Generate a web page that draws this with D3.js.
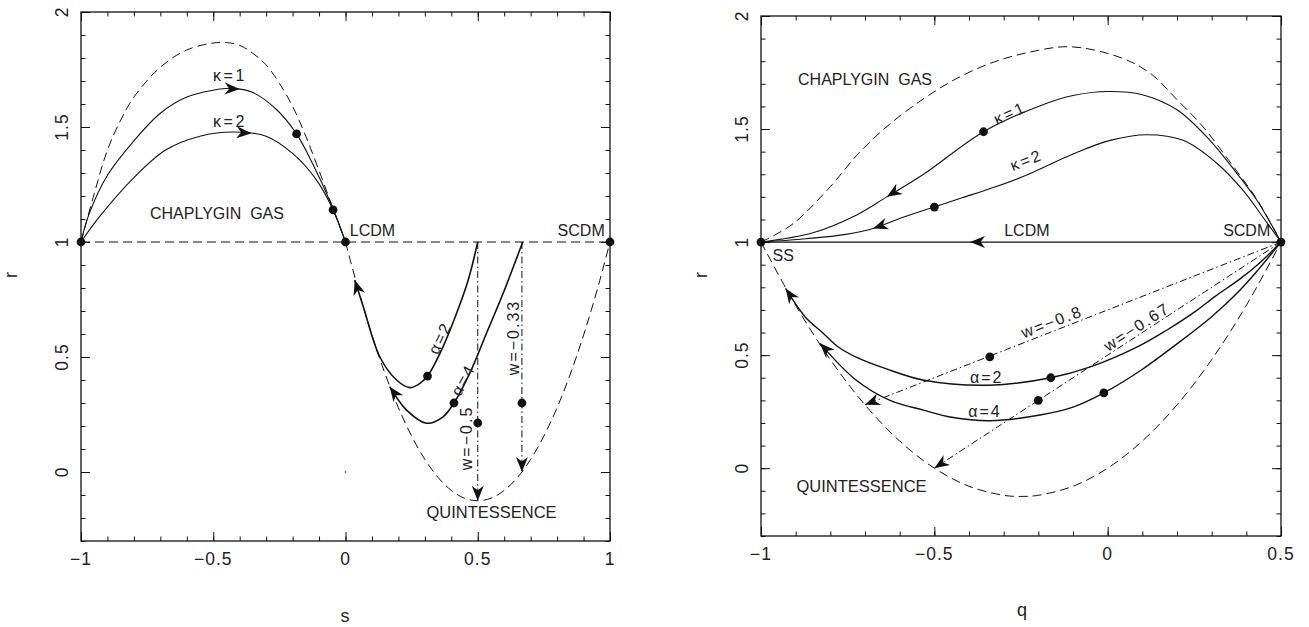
<!DOCTYPE html>
<html>
<head>
<meta charset="utf-8">
<script src="https://cdn.jsdelivr.net/npm/d3@7"></script>
<style>
body{margin:0;background:#fff}
text{font-family:"Liberation Sans",Arial,sans-serif;fill:#222}
</style>
</head>
<body>
<svg id="chart" width="1309" height="627"></svg>
<script>
// ---------- left panel : {s, r} ----------
var sDashUpper = [[-1,1],[-0.95,1.21],[-0.9,1.40],[-0.85,1.53],[-0.8,1.63],[-0.7,1.76],[-0.6,1.835],[-0.5,1.865],
  [-0.45,1.867],[-0.4,1.855],[-0.35,1.82],[-0.3,1.77],[-0.25,1.69],[-0.2,1.59],[-0.15,1.46],[-0.1,1.31],[-0.05,1.155],[0,1]];
var sDashLower = [[0,1],[0.05,0.786],[0.1,0.595],[0.15,0.426],[0.2,0.28],[0.25,0.156],[0.3,0.055],[0.35,-0.024],
  [0.4,-0.08],[0.45,-0.114],[0.5,-0.125],[0.55,-0.114],[0.6,-0.08],[0.65,-0.024],[0.7,0.055],[0.75,0.156],
  [0.8,0.28],[0.85,0.426],[0.9,0.595],[0.95,0.786],[1,1]];
var sFlat = [[-1,1],[1,1]];
var sKappa1 = [[-1,1],[-0.97,1.12],[-0.9,1.29],[-0.8,1.44],[-0.7,1.56],[-0.6,1.63],[-0.5,1.66],[-0.43,1.668],
  [-0.35,1.65],[-0.26,1.575],[-0.185,1.47],[-0.12,1.33],[-0.06,1.18],[0,1]];
var sKappa2 = [[-1,1],[-0.93,1.11],[-0.8,1.28],[-0.68,1.40],[-0.55,1.46],[-0.42,1.478],[-0.3,1.46],[-0.2,1.385],
  [-0.11,1.27],[-0.047,1.14],[0,1]];
var sAlpha2 = [[0.5,1],[0.464,0.835],[0.42,0.69],[0.369,0.545],[0.31,0.417],[0.275,0.38],[0.243,0.367],
  [0.193,0.40],[0.13,0.50],[0.067,0.72],[0.035,0.835]];
var sAlpha4 = [[0.67,1],[0.596,0.777],[0.533,0.603],[0.47,0.43],[0.41,0.30],[0.369,0.24],[0.306,0.212],
  [0.23,0.27],[0.167,0.371]];
var sW05 = [[0.5,1],[0.5,-0.125]];
var sW033 = [[0.667,1],[0.667,0.0]];
var sDots = [[-1,1],[0,1],[1,1],[-0.185,1.47],[-0.047,1.14],[0.31,0.417],[0.41,0.30],[0.5,0.213],[0.667,0.30]];
var sSpeck = [[0,0]];
// arrow tip, then a point behind it (direction)
var sArrows = [[[-0.40,1.665],[-0.46,1.667]],[[-0.355,1.473],[-0.42,1.478]]];

// ---------- right panel : {q, r} ----------
var qDashUpper = [[-1,1],[-0.95,1.04],[-0.9,1.09],[-0.8,1.245],[-0.72,1.39],[-0.63,1.52],[-0.53,1.635],[-0.44,1.72],
  [-0.34,1.79],[-0.24,1.835],[-0.11,1.864],[0.03,1.82],[0.12,1.75],[0.2,1.63],[0.275,1.51],[0.35,1.36],[0.43,1.19],[0.5,1]];
var qDashLower = [[-1,1],[-0.9,0.72],[-0.8,0.48],[-0.7,0.28],[-0.6,0.12],[-0.5,0],[-0.4,-0.08],[-0.3,-0.12],
  [-0.25,-0.125],[-0.2,-0.12],[-0.1,-0.08],[0,0],[0.1,0.12],[0.2,0.28],[0.3,0.48],[0.4,0.72],[0.5,1]];
var qLCDM = [[0.5,1],[-1,1]];
var qKappa1 = [[0.5,1],[0.43,1.186],[0.372,1.305],[0.295,1.45],[0.2,1.585],[0.1,1.652],[0,1.666],[-0.1,1.648],
  [-0.2,1.6],[-0.358,1.488],[-0.531,1.30],[-0.637,1.20],[-0.724,1.12],[-0.85,1.041],[-1,1]];
var qKappa2 = [[0.5,1],[0.448,1.11],[0.39,1.23],[0.314,1.35],[0.218,1.45],[0.113,1.475],[0.007,1.45],[-0.1,1.39],
  [-0.244,1.29],[-0.34,1.236],[-0.42,1.196],[-0.5,1.155],[-0.59,1.11],[-0.677,1.06],[-0.76,1.033],[-0.87,1.015],[-1,1]];
var qAlpha2 = [[0.5,1],[0.44,0.91],[0.38,0.835],[0.31,0.76],[0.25,0.69],[0.17,0.61],[0.09,0.54],[-0.05,0.448],
  [-0.164,0.40],[-0.34,0.367],[-0.53,0.389],[-0.64,0.44],[-0.724,0.49],[-0.778,0.537],[-0.82,0.596],[-0.873,0.67],[-0.929,0.795]];
var qAlpha4 = [[0.5,1],[0.43,0.87],[0.375,0.777],[0.3,0.67],[0.2,0.55],[0.095,0.432],[-0.011,0.333],[-0.1,0.27],
  [-0.195,0.235],[-0.34,0.21],[-0.45,0.225],[-0.532,0.257],[-0.628,0.30],[-0.726,0.39],[-0.83,0.552]];
var qW08 = [[0.5,1],[-0.7,0.28]];
var qW067 = [[0.5,1],[-0.5,0]];
var qDots = [[-1,1],[0.5,1],[-0.358,1.488],[-0.5,1.155],[-0.34,0.4925],[-0.164,0.40],[-0.2,0.30],[-0.011,0.333]];
var qArrows = [[[-0.637,1.20],[-0.58,1.255]],[[-0.677,1.06],[-0.62,1.09]],[[-0.397,1],[-0.3,1]]];

var xTicksS = [-1,-0.5,0,0.5,1];
var xTicksQ = [-1,-0.5,0,0.5];
var yTicks = [0,0.5,1,1.5,2];

var svg = d3.select('#chart');

function fmt(v) { return (v < 0 ? '\u2212' : '') + Math.abs(v); }

function panel(xd, xr, yr, xMajor, xName, xNamePos, yNamePos) {
	var x = d3.scaleLinear().domain(xd).range(xr);
	var y = d3.scaleLinear().domain([-0.3,2]).range(yr);
	var g = svg.append('g');
	var x0 = xr[0], x1 = xr[1], y0 = yr[0], y1 = yr[1];

	function ax(a, t, vals, size) {
		g.append('g').attr('transform', t)
			.call(a.tickValues(vals).tickSize(-size).tickSizeOuter(0).tickFormat(''))
			.call(function(s){ s.select('.domain').remove(); s.selectAll('line').attr('stroke','#111').attr('stroke-width',1); });
	}
	[[d3.axisBottom(x),'translate(0,'+y0+')'],[d3.axisTop(x),'translate(0,'+y1+')']].forEach(function(a){
		ax(a[0], a[1], x.ticks(20), 4.5);
		ax(a[0], a[1], xMajor, 9);
	});
	[[d3.axisLeft(y),'translate('+x0+',0)'],[d3.axisRight(y),'translate('+x1+',0)']].forEach(function(a){
		ax(a[0], a[1], y.ticks(20), 4.5);
		ax(a[0], a[1], yTicks, 9);
	});
	g.append('rect').attr('x',x0).attr('y',y1).attr('width',x1-x0).attr('height',y0-y1)
		.attr('fill','none').attr('stroke','#111').attr('stroke-width',1.3);

	g.selectAll('.xl').data(xMajor).enter().append('text')
		.attr('x', function(d){ return x(d); }).attr('y', y0 + 23.5)
		.attr('text-anchor','middle').attr('font-size',17.5).attr('letter-spacing',1)
		.text(fmt);
	g.selectAll('.yl').data(yTicks).enter().append('text')
		.attr('transform', function(d){ return 'translate(' + (x0 - 13) + ',' + y(d) + ') rotate(-90)'; })
		.attr('text-anchor','middle').attr('font-size',17.5).attr('letter-spacing',1)
		.text(fmt);
	g.append('text').attr('x', xNamePos[0]).attr('y', xNamePos[1]).attr('text-anchor','middle')
		.attr('font-size',18).text(xName);
	g.append('text').attr('transform','translate(' + yNamePos[0] + ',' + yNamePos[1] + ') rotate(-90)')
		.attr('text-anchor','middle').attr('font-size',18).text('r');
	return {x:x, y:y, g:g};
}

function curve(p, pts, dash, w) {
	var line = d3.line().x(function(d){ return p.x(d[0]); }).y(function(d){ return p.y(d[1]); })
		.curve(d3.curveCatmullRom.alpha(0.5));
	p.g.append('path').datum(pts).attr('d', line).attr('fill','none')
		.attr('stroke','#111').attr('stroke-width', w || 1.1)
		.attr('stroke-dasharray', dash || null);
}

function arrow(p, tip, from) {
	var tx = p.x(tip[0]), ty = p.y(tip[1]);
	var a = Math.atan2(ty - p.y(from[1]), tx - p.x(from[0])) * 180 / Math.PI;
	p.g.append('path').attr('d','M0,0L-15,-6L-10.5,0L-15,6Z').attr('fill','#111')
		.attr('transform','translate(' + tx + ',' + ty + ') rotate(' + a + ')');
}

function endArrow(p, pts) { arrow(p, pts[pts.length-1], pts[pts.length-2]); }

function dots(p, pts, r) {
	p.g.selectAll(null).data(pts).enter().append('circle')
		.attr('cx', function(d){ return p.x(d[0]); }).attr('cy', function(d){ return p.y(d[1]); })
		.attr('r', r).attr('fill','#111');
}

function label(p, t, pos, opts) {
	opts = opts || {};
	p.g.append('text')
		.attr('transform','translate(' + p.x(pos[0]) + ',' + p.y(pos[1]) + ') rotate(' + (opts.rot || 0) + ')')
		.attr('text-anchor', opts.anchor || 'middle').attr('dominant-baseline','central')
		.attr('font-size', opts.size || 16).attr('letter-spacing', opts.ls || 0)
		.style('white-space','pre').text(t);
}

var DASH = '9,5', DOTDASH = '7,3,1.5,3';

// ---- left ----
var L = panel([-1,1], [81,610], [541,12], xTicksS, 's', [345,622], [17,275]);
curve(L, sFlat, DASH, 1);
curve(L, sDashUpper, DASH, 1);
curve(L, sDashLower, DASH, 1);
curve(L, sKappa1, null, 1.1);
curve(L, sKappa2, null, 1.1);
curve(L, sAlpha2, null, 1.6);
curve(L, sAlpha4, null, 1.6);
curve(L, sW05, DOTDASH, 1);
curve(L, sW033, DOTDASH, 1);
sArrows.forEach(function(a){ arrow(L, a[0], a[1]); });
endArrow(L, sAlpha2); endArrow(L, sAlpha4); endArrow(L, sW05); endArrow(L, sW033);
dots(L, sDots, 4.4);
dots(L, sSpeck, 0.8);
label(L, 'CHAPLYGIN  GAS', [-0.486,1.122]);
label(L, '\u03ba=1', [-0.437,1.722], {ls:2.5});
label(L, '\u03ba=2', [-0.437,1.522], {ls:2.5});
label(L, 'LCDM', [0.016,1.052], {anchor:'start'});
label(L, 'SCDM', [0.98,1.052], {anchor:'end'});
label(L, 'QUINTESSENCE', [0.552,-0.174], {size:16.5});
label(L, '\u03b1=2', [0.357,0.583], {rot:-65, ls:2});
label(L, '\u03b1=4', [0.445,0.40], {rot:-62, ls:2});
label(L, 'w=\u22120.5', [0.457,0.148], {rot:-90, ls:2});
label(L, 'w=\u22120.33', [0.634,0.585], {rot:-90, ls:2});

// ---- right ----
var R = panel([-1,0.5], [761,1281], [536,16], xTicksQ, 'q', [1022,616], [707,275]);
curve(R, qDashUpper, DASH, 1);
curve(R, qDashLower, DASH, 1);
curve(R, qLCDM, null, 1.1);
curve(R, qKappa1, null, 1.1);
curve(R, qKappa2, null, 1.1);
curve(R, qAlpha2, null, 1.4);
curve(R, qAlpha4, null, 1.4);
curve(R, qW08, DOTDASH, 1);
curve(R, qW067, DOTDASH, 1);
qArrows.forEach(function(a){ arrow(R, a[0], a[1]); });
endArrow(R, qAlpha2); endArrow(R, qAlpha4); endArrow(R, qW08); endArrow(R, qW067);
dots(R, qDots, 4.4);
label(R, 'CHAPLYGIN  GAS', [-0.70,1.721]);
label(R, '\u03ba=1', [-0.282,1.571], {rot:-24, ls:2.5});
label(R, '\u03ba=2', [-0.234,1.363], {rot:-21, ls:2.5});
label(R, 'LCDM', [-0.233,1.053]);
label(R, 'SCDM', [0.401,1.053]);
label(R, 'SS', [-0.936,0.942]);
label(R, 'QUINTESSENCE', [-0.71,-0.078], {size:16.5});
label(R, '\u03b1=2', [-0.349,0.403], {ls:2});
label(R, '\u03b1=4', [-0.354,0.249], {ls:2});
label(R, 'w=\u22120.8', [-0.161,0.647], {rot:-21, ls:2});
label(R, 'w=\u22120.67', [0.084,0.625], {rot:-33, ls:2});
</script>
</body>
</html>
